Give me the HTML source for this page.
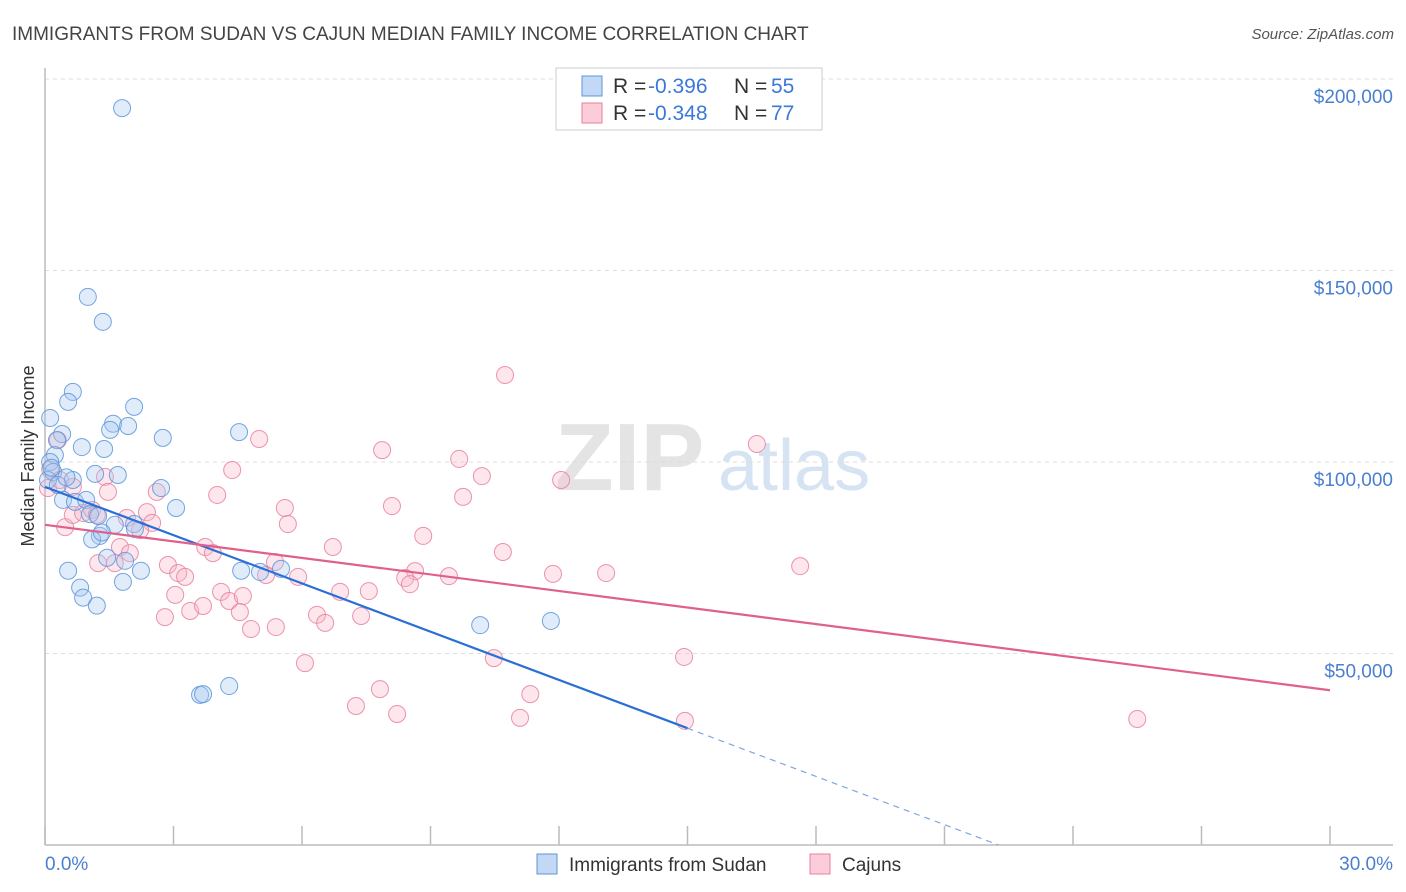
<!DOCTYPE html>
<html><head><meta charset="utf-8">
<style>
body{margin:0;background:#fff;font-family:"Liberation Sans",sans-serif;}
#wrap{position:relative;width:1406px;height:892px;overflow:hidden;}
svg text{font-family:"Liberation Sans",sans-serif;}
</style></head>
<body>
<div id="wrap">
<svg id="chart" width="1406" height="892"></svg>
</div>
<script>
const xTicks=[0,3,6,9,12,15,18,21,24,27,30];
const yTicks=[50,100,150,200];
const yTickLabels=["$50,000","$100,000","$150,000","$200,000"];
const sudanX=[1.80,1.00,1.35,0.65,0.54,2.08,0.12,1.59,1.52,1.94,0.40,2.75,4.53,0.28,0.86,1.38,0.23,0.12,0.19,1.17,1.70,0.07,0.65,2.71,0.42,0.70,0.96,3.06,1.05,1.24,1.28,1.63,2.08,2.10,1.10,1.33,1.45,1.87,2.24,0.54,0.82,0.89,1.21,1.82,4.58,5.02,5.51,3.62,4.30,10.16,11.81,3.69,0.30,0.15,0.50];
const sudanY=[192.4,143.1,136.6,118.3,115.7,114.4,111.5,110.0,108.4,109.4,107.3,106.3,107.8,105.7,103.9,103.4,101.8,100.0,97.4,96.9,96.6,95.3,95.3,93.2,90.1,89.6,90.1,88.0,86.4,85.9,80.7,83.6,83.8,82.5,79.8,81.6,75.0,74.2,71.6,71.6,67.2,64.6,62.5,68.7,71.6,71.3,72.1,39.2,41.5,57.4,58.5,39.4,94.0,98.5,96.0];
const cajunX=[0.30,1.40,1.47,0.65,0.47,0.65,0.89,1.10,1.21,1.91,2.38,2.50,2.22,1.75,1.24,1.63,1.98,2.61,4.02,4.37,5.00,2.87,3.11,3.27,3.04,2.80,3.39,3.69,3.74,3.92,4.11,4.30,4.62,4.55,4.81,5.39,5.60,5.67,5.37,5.16,5.91,6.07,6.35,6.54,6.72,7.38,7.87,8.10,7.82,8.22,7.26,7.56,8.64,8.41,8.52,8.83,9.43,9.67,9.76,10.2,10.74,10.69,10.48,11.09,11.33,11.86,12.05,13.10,14.92,14.94,16.62,17.63,25.50,6.89,0.07,0.12,0.35];
const cajunY=[105.7,96.1,92.2,93.5,83.0,86.2,86.7,87.5,86.2,85.4,86.9,84.1,82.2,77.8,73.6,73.6,76.2,92.2,91.4,97.9,106.0,73.1,71.0,70.0,65.3,59.5,61.1,62.4,77.8,76.2,66.1,63.7,65.0,60.8,56.4,56.9,88.0,83.8,73.9,70.5,70.0,47.5,60.1,58.0,77.8,59.8,103.1,88.5,40.7,34.2,36.3,66.3,71.5,69.7,68.1,80.7,70.2,100.8,90.9,96.3,122.7,76.5,48.8,33.2,39.4,70.8,95.3,71.0,49.1,32.4,104.7,72.8,32.9,66.1,93.2,98.0,95.3];
const sudanFit=[93.5,-4.2];
const cajunFit=[83.6,-1.44];

const X0=45,X1=1330,YB=845,PY=3.83;
const sx=v=>X0+(v/30)*(X1-X0);
const sy=v=>YB-v*PY;
const svg=document.getElementById('chart');
const NS='http://www.w3.org/2000/svg';
function mk(t,a,p){const e=document.createElementNS(NS,t);for(const k in a)e.setAttribute(k,a[k]);(p||svg).appendChild(e);return e;}

let t=mk('text',{x:12,y:40,'font-size':19,fill:'#444'});t.textContent='IMMIGRANTS FROM SUDAN VS CAJUN MEDIAN FAMILY INCOME CORRELATION CHART';


t=mk('text',{x:1394,y:39,'font-size':15,fill:'#555','text-anchor':'end','font-style':'italic'});t.textContent='Source: ZipAtlas.com';



t=mk('text',{x:555,y:490,'font-size':96,fill:'#e4e4e4','font-family':'Liberation Serif','font-weight':'bold'});t.textContent='ZIP';


t=mk('text',{x:718,y:490,'font-size':72,fill:'#d6e3f3'});t.textContent='atlas';



yTicks.forEach((v,i)=>{
  const g=mk('line',{x1:X0,x2:1393,y1:sy(v),y2:sy(v),stroke:'#ddd','stroke-dasharray':'4,4'});
  
  
  const l=mk('text',{x:1393,y:sy(v)+24,'font-size':19,fill:'#4a7fd0','text-anchor':'end'});l.textContent=yTickLabels[i];
  
  
});
let topGrid=mk('line',{x1:X0,x2:1393,y1:79,y2:79,stroke:'#ddd','stroke-dasharray':'4,4'});


let ax=mk('line',{x1:X0,x2:X0,y1:68,y2:YB,stroke:'#bbb','stroke-width':1.5});


ax=mk('line',{x1:X0,x2:1393,y1:YB,y2:YB,stroke:'#bbb','stroke-width':1.5});


xTicks.forEach(v=>{const k=mk('line',{x1:sx(v),x2:sx(v),y1:826,y2:YB,stroke:'#bbb','stroke-width':1.5});
  
  });
t=mk('text',{x:45,y:870,'font-size':19,fill:'#4a7fd0'});t.textContent='0.0%';


t=mk('text',{x:1393,y:870,'font-size':19,fill:'#4a7fd0','text-anchor':'end'});t.textContent='30.0%';


t=mk('text',{x:34,y:456,'font-size':18,fill:'#333','text-anchor':'middle',transform:'rotate(-90 34 456)'});t.textContent='Median Family Income';



function pts(xs,ys,fill,stroke,name){
  xs.forEach((x,i)=>{const c=mk('circle',{cx:sx(x),cy:sy(ys[i]),r:8.5,fill:fill,'fill-opacity':0.35,stroke:stroke,'stroke-width':1,'stroke-opacity':0.85});
    
    });
}
pts(cajunX,cajunY,'#f9b6c9','#e9809f','cajun-point');
pts(sudanX,sudanY,'#a9c8f0','#5c95db','sudan-point');

const bEnd=15, bZero=-sudanFit[0]/sudanFit[1];
let rl=mk('line',{x1:sx(0),y1:sy(sudanFit[0]),x2:sx(bEnd),y2:sy(sudanFit[0]+sudanFit[1]*bEnd),stroke:'#2a6fd6','stroke-width':2.2});


rl=mk('line',{x1:sx(bEnd),y1:sy(sudanFit[0]+sudanFit[1]*bEnd),x2:sx(bZero),y2:sy(0),stroke:'#7fa6e0','stroke-width':1.2,'stroke-dasharray':'6,5'});


rl=mk('line',{x1:sx(0),y1:sy(cajunFit[0]),x2:sx(30),y2:sy(cajunFit[0]+cajunFit[1]*30),stroke:'#e0608c','stroke-width':2.2});



let lb=mk('rect',{x:556,y:68,width:266,height:62,fill:'#fff',stroke:'#ccc'});


[['#a9c8f0','#5c95db','-0.396','55',86],['#f9b6c9','#e9809f','-0.348','77',113]].forEach(r=>{
  const s=mk('rect',{x:582,y:r[4]-10,width:20,height:20,fill:r[0],'fill-opacity':0.7,stroke:r[1]});
  
  
  const a=mk('text',{x:613,y:r[4]+7,'font-size':21,fill:'#333'});a.textContent='R =';
  
  
  const b=mk('text',{x:648,y:r[4]+7,'font-size':21,fill:'#3b78d8'});b.textContent=r[2];
  
  
  const c=mk('text',{x:734,y:r[4]+7,'font-size':21,fill:'#333'});c.textContent='N =';
  
  
  const d=mk('text',{x:771,y:r[4]+7,'font-size':21,fill:'#3b78d8'});d.textContent=r[3];
  
  
});

[['#a9c8f0','#5c95db','Immigrants from Sudan',537],['#f9b6c9','#e9809f','Cajuns',810]].forEach(r=>{
  const s=mk('rect',{x:r[3],y:854,width:20,height:20,fill:r[0],'fill-opacity':0.7,stroke:r[1]});
  
  
  const tx=mk('text',{x:r[3]+32,y:871,'font-size':19,fill:'#333'});tx.textContent=r[2];
  
  
});
</script>
</body></html>
